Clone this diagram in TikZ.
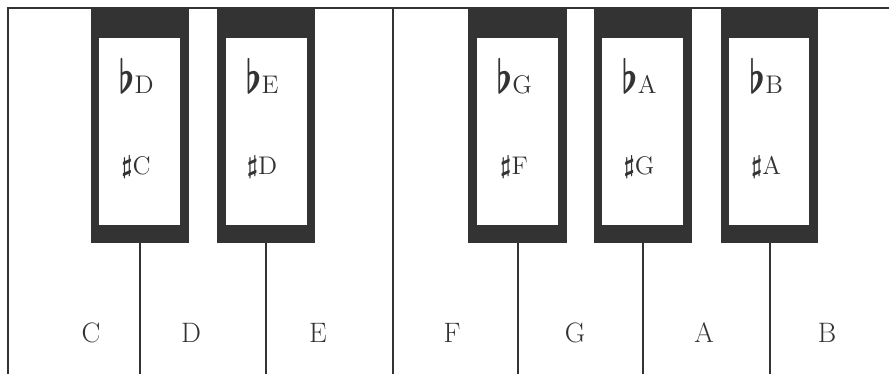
\documentclass[tikz,border=0pt]{standalone}
\usepackage{graphicx}
\definecolor{keyink}{HTML}{333333}
\tikzset{
  frame/.style={draw=keyink, line width=1pt},
  blackkey/.style={fill=keyink},
  keyface/.style={fill=white},
  whitename/.style={font=\fontsize{16}{18}\selectfont, text=keyink, anchor=base, inner sep=0pt},
  accname/.style={font=\fontsize{14.5}{16}\selectfont, text=keyink, anchor=base, inner sep=0pt},
}
\newcommand{\flatof}[1]{\scalebox{1.45}[1.85]{\mathversion{bold}$\flat$}#1}
\newcommand{\sharpof}[1]{\raisebox{1pt}{\fontsize{15}{16}\selectfont\mathversion{bold}$\sharp$}#1}

\begin{document}
\begin{tikzpicture}[x=0.02cm, y=-0.02cm]
    \useasboundingbox (0,0) rectangle (889,374);
    % frame of the white keys
    \coordinate (TL) at (8,8);
    \coordinate (TR) at (889,8);
    \coordinate (BL) at (8,374);
    \coordinate (EF) at (393,8);
    \coordinate (EFb) at (393,374);
    \draw[frame] (BL)--(TL)--(TR);
    \draw[frame] (EF)--(EFb);
    % black keys
    \fill[blackkey] (91,8) rectangle (189,243);
    \fill[keyface] (99,38) rectangle (180,225);
    \fill[blackkey] (217,8) rectangle (315,243);
    \fill[keyface] (226,38) rectangle (307,225);
    \fill[blackkey] (468,8) rectangle (567,243);
    \fill[keyface] (477,38) rectangle (558,225);
    \fill[blackkey] (594,8) rectangle (692,243);
    \fill[keyface] (602,38) rectangle (683,225);
    \fill[blackkey] (721,8) rectangle (818,243);
    \fill[keyface] (729,38) rectangle (809,225);
    % borders between white keys below the black keys
    \coordinate (K1) at (140,243);
    \coordinate (K2) at (266,243);
    \coordinate (K3) at (518,243);
    \coordinate (K4) at (643,243);
    \coordinate (K5) at (770,243);
    \draw[frame] (K1)--(140,374);
    \draw[frame] (K2)--(266,374);
    \draw[frame] (K3)--(518,374);
    \draw[frame] (K4)--(643,374);
    \draw[frame] (K5)--(770,374);
    % names of the black keys
    \node[accname] (bD) at (136,94) {\flatof{D}};
    \node[accname] (sC) at (136,175) {\sharpof{C}};
    \node[accname] (bE) at (262,94) {\flatof{E}};
    \node[accname] (sD) at (262,175) {\sharpof{D}};
    \node[accname] (bG) at (514,94) {\flatof{G}};
    \node[accname] (sF) at (514,175) {\sharpof{F}};
    \node[accname] (bA) at (639,94) {\flatof{A}};
    \node[accname] (sG) at (639,175) {\sharpof{G}};
    \node[accname] (bB) at (766,94) {\flatof{B}};
    \node[accname] (sA) at (766,175) {\sharpof{A}};
    % names of the white keys
    \node[whitename] (C) at (91,343) {C};
    \node[whitename] (D) at (191,343) {D};
    \node[whitename] (E) at (318,343) {E};
    \node[whitename] (F) at (452,343) {F};
    \node[whitename] (G) at (575,343) {G};
    \node[whitename] (A) at (704,343) {A};
    \node[whitename] (B) at (827,343) {B};
\end{tikzpicture}
\end{document}
